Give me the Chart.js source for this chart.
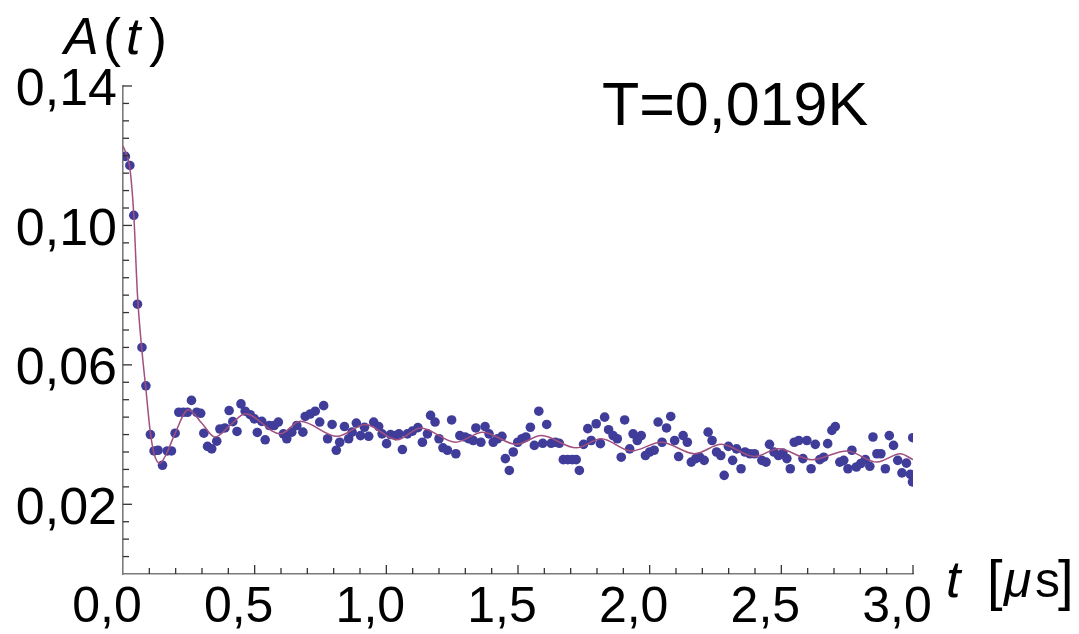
<!DOCTYPE html>
<html>
<head>
<meta charset="utf-8">
<script src="https://cdn.jsdelivr.net/npm/chart.js@4.4.1/dist/chart.umd.min.js"></script>
<style>
  html, body { margin: 0; padding: 0; background: #fff; }
  #wrap { width: 1079px; height: 634px; }
</style>
</head>
<body>
<div id="wrap"><canvas id="grafico" width="1079" height="634"></canvas></div>
<script>
// Datos medidos: tiempo (µs) y asimetría A(t)
const tiempos = [
  0.009, 0.026, 0.041, 0.055, 0.072, 0.087, 0.104, 0.118, 0.133, 0.150,
  0.168, 0.184, 0.198, 0.212, 0.229, 0.245, 0.260, 0.280, 0.295, 0.307,
  0.321, 0.337, 0.356, 0.368, 0.387, 0.403, 0.417, 0.433, 0.448, 0.464,
  0.483, 0.499, 0.510, 0.527, 0.540, 0.556, 0.574, 0.590, 0.609, 0.622,
  0.641, 0.660, 0.683, 0.692, 0.711, 0.730, 0.747, 0.762, 0.777, 0.794,
  0.810, 0.823, 0.841, 0.857, 0.870, 0.886, 0.902, 0.917, 0.933, 0.952,
  0.971, 0.984, 1.001, 1.016, 1.035, 1.048, 1.061, 1.080, 1.099, 1.120,
  1.137, 1.156, 1.168, 1.185, 1.200, 1.215, 1.232, 1.248, 1.264, 1.279,
  1.299, 1.314, 1.330, 1.340, 1.359, 1.375, 1.390, 1.406, 1.422, 1.439,
  1.452, 1.467, 1.482, 1.499, 1.515, 1.530, 1.547, 1.562, 1.579, 1.594,
  1.609, 1.626, 1.642, 1.657, 1.672, 1.689, 1.706, 1.721, 1.733, 1.749,
  1.765, 1.778, 1.797, 1.813, 1.829, 1.844, 1.861, 1.877, 1.892, 1.905,
  1.924, 1.937, 1.953, 1.968, 1.984, 2.000, 2.017, 2.032, 2.047, 2.064,
  2.080, 2.095, 2.110, 2.127, 2.143, 2.158, 2.175, 2.190, 2.207, 2.222,
  2.237, 2.254, 2.270, 2.283, 2.299, 2.315, 2.330, 2.347, 2.362, 2.381,
  2.398, 2.426, 2.442, 2.455, 2.472, 2.489, 2.506, 2.521, 2.534, 2.549,
  2.566, 2.582, 2.597, 2.613, 2.629, 2.646, 2.661, 2.676, 2.692, 2.705,
  2.722, 2.737, 2.753, 2.768, 2.785, 2.802, 2.819, 2.836, 2.848, 2.863,
  2.878, 2.895, 2.910, 2.926, 2.942, 2.958, 2.975, 2.990, 2.999, 2.998
];
const asimetria = [
  0.1198, 0.1172, 0.1029, 0.0774, 0.0650, 0.0540, 0.0400, 0.0353, 0.0355, 0.0312,
  0.0353, 0.0353, 0.0404, 0.0464, 0.0464, 0.0464, 0.0498, 0.0464, 0.0461, 0.0404,
  0.0366, 0.0359, 0.0381, 0.0416, 0.0419, 0.0469, 0.0437, 0.0409, 0.0488, 0.0467,
  0.0457, 0.0445, 0.0406, 0.0438, 0.0385, 0.0426, 0.0426, 0.0436, 0.0402, 0.0388,
  0.0407, 0.0426, 0.0407, 0.0452, 0.0459, 0.0467, 0.0436, 0.0483, 0.0388, 0.0429,
  0.0355, 0.0378, 0.0423, 0.0388, 0.0407, 0.0433, 0.0397, 0.0421, 0.0395, 0.0436,
  0.0423, 0.0402, 0.0374, 0.0400, 0.0397, 0.0402, 0.0357, 0.0402, 0.0410, 0.0420,
  0.0378, 0.0402, 0.0455, 0.0436, 0.0388, 0.0362, 0.0355, 0.0442, 0.0345, 0.0397,
  0.0393, 0.0388, 0.0383, 0.0419, 0.0378, 0.0423, 0.0402, 0.0378, 0.0388, 0.0395,
  0.0331, 0.0297, 0.0350, 0.0378, 0.0388, 0.0393, 0.0421, 0.0369, 0.0467, 0.0375,
  0.0429, 0.0375, 0.0378, 0.0375, 0.0328, 0.0328, 0.0328, 0.0328, 0.0297, 0.0372,
  0.0417, 0.0383, 0.0431, 0.0374, 0.0450, 0.0414, 0.0397, 0.0388, 0.0335, 0.0442,
  0.0359, 0.0402, 0.0383, 0.0397, 0.0340, 0.0350, 0.0355, 0.0436, 0.0378, 0.0419,
  0.0452, 0.0383, 0.0337, 0.0397, 0.0378, 0.0321, 0.0331, 0.0335, 0.0326, 0.0407,
  0.0383, 0.0350, 0.0340, 0.0283, 0.0366, 0.0326, 0.0359, 0.0302, 0.0350, 0.0345,
  0.0345, 0.0326, 0.0321, 0.0372, 0.0350, 0.0340, 0.0347, 0.0331, 0.0302, 0.0378,
  0.0383, 0.0331, 0.0383, 0.0302, 0.0372, 0.0328, 0.0335, 0.0374, 0.0412, 0.0423,
  0.0321, 0.0326, 0.0302, 0.0355, 0.0307, 0.0317, 0.0328, 0.0309, 0.0393, 0.0345,
  0.0345, 0.0302, 0.0397, 0.0369, 0.0326, 0.0290, 0.0318, 0.0286, 0.0391, 0.0264
];

// Curva de ajuste
const ajusteT = [
  0.000, 0.009, 0.026, 0.041, 0.055, 0.072, 0.087, 0.104, 0.120, 0.140,
  0.165, 0.197, 0.248, 0.301, 0.349, 0.406, 0.464, 0.597, 0.673, 0.813,
  0.921, 1.041, 1.130, 1.264, 1.366, 1.494, 1.589, 1.721, 1.816, 1.930,
  2.044, 2.171, 2.272, 2.399, 2.489, 2.616, 2.749, 2.863, 2.952, 3.000
];
const ajusteA = [
  0.1228, 0.1212, 0.1165, 0.1030, 0.0800, 0.0640, 0.0530, 0.0405, 0.0340, 0.0318,
  0.0345, 0.0402, 0.0471, 0.0431, 0.0393, 0.0426, 0.0460, 0.0402, 0.0438, 0.0395,
  0.0429, 0.0385, 0.0419, 0.0378, 0.0407, 0.0372, 0.0397, 0.0362, 0.0388, 0.0353,
  0.0378, 0.0345, 0.0372, 0.0337, 0.0359, 0.0328, 0.0353, 0.0321, 0.0345, 0.0328
];

// Marcas con etiqueta
const ticksX = [0.0, 0.5, 1.0, 1.5, 2.0, 2.5, 3.0];
const ticksY = [0.02, 0.06, 0.10, 0.14];

const FUENTE = '"Liberation Sans", Arial, sans-serif';

// Marcas hacia dentro y textos
const decoracion = {
  id: 'decoracion',
  afterDraw(chart) {
    const { ctx, scales: { x, y } } = chart;
    ctx.save();
    ctx.strokeStyle = '#333';
    ctx.lineWidth = 1.3;
    // marcas del eje x cada 0,1
    for (let i = 1; i <= 30; i++) {
      const px = x.getPixelForValue(i / 10);
      const largo = i % 5 === 0 ? 9 : 6;
      ctx.beginPath();
      ctx.moveTo(px, y.bottom);
      ctx.lineTo(px, y.bottom - largo);
      ctx.stroke();
    }
    // marcas del eje y cada 0,005
    for (let i = 1; i <= 28; i++) {
      const py = y.getPixelForValue(i * 0.005);
      const largo = (i - 4) % 8 === 0 ? 9 : 6;
      ctx.beginPath();
      ctx.moveTo(x.left, py);
      ctx.lineTo(x.left + largo, py);
      ctx.stroke();
    }

    ctx.fillStyle = '#000';
    ctx.textBaseline = 'alphabetic';
    ctx.textAlign = 'left';
    // A(t)
    ctx.font = 'italic 52px ' + FUENTE;
    ctx.fillText('A', 64, 54);
    ctx.font = '54px ' + FUENTE;
    ctx.fillText('(', 103, 56);
    ctx.font = 'italic 52px ' + FUENTE;
    ctx.fillText('t', 126, 54);
    ctx.font = '54px ' + FUENTE;
    ctx.fillText(')', 149, 56);

    // t [µs]
    ctx.font = 'italic 52px ' + FUENTE;
    ctx.fillText('t', 946, 597);
    ctx.font = '56px ' + FUENTE;
    ctx.fillText('[', 987, 599);
    ctx.font = 'italic 50px ' + FUENTE;
    ctx.fillText('\u03bc', 1004, 597);
    ctx.font = '50px ' + FUENTE;
    ctx.fillText('s', 1035, 597);
    ctx.font = '56px ' + FUENTE;
    ctx.fillText(']', 1058, 599);

    // temperatura
    ctx.font = '61px ' + FUENTE;
    ctx.textAlign = 'center';
    ctx.fillText('T=0,019K', 735, 125);
    ctx.restore();
  }
};

const coma = v => v.toFixed(1).replace('.', ',');
const comaY = v => v.toFixed(2).replace('.', ',');

new Chart(document.getElementById('grafico'), {
  type: 'scatter',
  data: {
    datasets: [
      {
        type: 'line',
        label: 'ajuste',
        data: ajusteT.map((t, i) => ({ x: t, y: ajusteA[i] })),
        borderColor: '#a0507f',
        borderWidth: 1.5,
        pointRadius: 0,
        cubicInterpolationMode: 'monotone',
        fill: false,
        order: 0,
        clip: 0
      },
      {
        label: 'datos',
        data: tiempos.map((t, i) => ({ x: t, y: asimetria[i] })),
        backgroundColor: '#3f3d99',
        borderColor: '#3f3d99',
        pointRadius: 4.8,
        pointBorderWidth: 0,
        order: 1,
        clip: 0
      }
    ]
  },
  options: {
    responsive: false,
    animation: false,
    layout: { padding: { top: 86, right: 166, left: 0, bottom: 0 } },
    plugins: { legend: { display: false }, tooltip: { enabled: false } },
    scales: {
      x: {
        type: 'linear',
        min: 0,
        max: 3,
        afterBuildTicks: s => { s.ticks = ticksX.map(v => ({ value: v })); },
        afterFit: s => { s.height = 60; },
        grid: { display: false, drawTicks: false },
        border: { display: true, color: '#7a7a7a', width: 1.6 },
        ticks: {
          color: '#000',
          font: { family: FUENTE, size: 50 },
          padding: 4,
          labelOffset: -16,
          maxRotation: 0,
          autoSkip: false,
          callback: v => coma(v)
        }
      },
      y: {
        type: 'linear',
        min: 0,
        max: 0.14,
        afterBuildTicks: s => { s.ticks = ticksY.map(v => ({ value: v })); },
        afterFit: s => { s.width = 123; },
        grid: { display: false, drawTicks: false },
        border: { display: true, color: '#7a7a7a', width: 1.6 },
        ticks: {
          color: '#000',
          font: { family: FUENTE, size: 52 },
          padding: 6,
          labelOffset: 5,
          autoSkip: false,
          callback: v => comaY(v)
        }
      }
    }
  },
  plugins: [decoracion]
});
</script>
</body>
</html>
